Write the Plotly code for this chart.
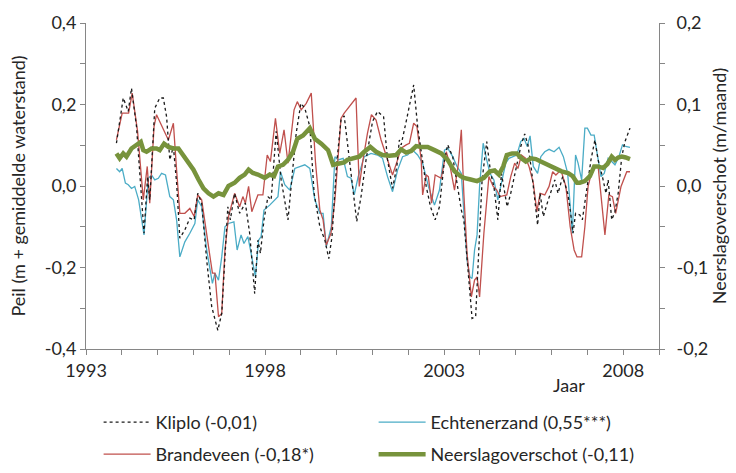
import plotly.graph_objects as go

# ---- data (decimal years) ----
kliplo_x = [1993.85,1994.04,1994.18,1994.27,1994.41,1994.62,1994.72,1994.78,1994.92,1995.06,1995.16,1995.25,1995.34,1995.44,1995.53,1995.62,1995.76,1995.9,1996.02,1996.12,1996.23,1996.37,1996.51,1996.68,1996.79,1996.88,1996.96,1997.03,1997.15,1997.29,1997.45,1997.57,1997.71,1997.8,1997.87,1997.97,1998.08,1998.17,1998.31,1998.45,1998.64,1998.78,1998.87,1999.0,1999.11,1999.25,1999.37,1999.53,1999.67,1999.78,1999.87,2000.0,2000.12,2000.21,2000.3,2000.44,2000.56,2000.68,2000.82,2001.0,2001.14,2001.31,2001.42,2001.56,2001.68,2001.75,2001.8,2001.94,2002.08,2002.15,2002.26,2002.36,2002.5,2002.62,2002.75,2002.87,2003.01,2003.1,2003.24,2003.36,2003.48,2003.55,2003.69,2003.78,2003.88,2003.97,2004.06,2004.19,2004.3,2004.39,2004.5,2004.6,2004.67,2004.76,2004.86,2005.0,2005.14,2005.25,2005.34,2005.44,2005.53,2005.61,2005.68,2005.77,2005.88,2006.0,2006.09,2006.18,2006.31,2006.45,2006.51,2006.6,2006.67,2006.79,2006.86,2006.98,2007.1,2007.21,2007.3,2007.42,2007.52,2007.58,2007.68,2007.77,2007.86,2007.96,2008.05,2008.19]
kliplo_y = [0.105,0.216,0.183,0.240,0.146,-0.116,0.023,-0.034,0.191,0.216,0.216,0.17,0.064,0.097,0.007,-0.128,-0.108,-0.079,-0.083,-0.018,-0.042,-0.182,-0.296,-0.354,-0.313,-0.165,-0.051,-0.083,-0.018,-0.067,-0.042,-0.116,-0.264,-0.133,-0.165,-0.083,-0.026,-0.034,0.134,0.015,-0.083,0.048,0.13,0.203,0.191,0.146,-0.018,-0.1,-0.133,-0.178,-0.124,0.056,0.162,0.172,0.105,-0.001,-0.087,-0.026,0.064,0.158,0.183,0.17,0.064,-0.006,0.048,0.113,0.101,0.158,0.216,0.248,0.146,0.08,-0.001,-0.051,-0.083,-0.051,0.064,0.101,0.072,0.007,-0.059,-0.083,-0.223,-0.325,-0.321,-0.149,0.015,0.109,0.031,-0.001,-0.083,0.031,-0.006,-0.051,-0.018,0.039,0.097,0.128,0.101,0.039,-0.034,-0.096,-0.018,-0.075,-0.042,-0.01,0.015,-0.018,0.023,-0.018,-0.051,-0.116,-0.067,-0.071,-0.083,-0.01,0.064,0.113,0.064,0.023,-0.018,0.015,-0.083,-0.063,-0.018,0.072,0.109,0.142]

echten_x = [1993.85,1993.94,1994.01,1994.1,1994.18,1994.27,1994.36,1994.47,1994.62,1994.74,1994.83,1994.92,1995.02,1995.11,1995.22,1995.34,1995.44,1995.53,1995.62,1995.76,1995.9,1996.04,1996.12,1996.23,1996.37,1996.53,1996.6,1996.7,1996.79,1996.88,1996.98,1997.13,1997.22,1997.33,1997.41,1997.52,1997.61,1997.73,1997.82,1997.89,1997.97,1998.13,1998.36,1998.43,1998.55,1998.69,1998.83,1999.11,1999.25,1999.39,1999.53,1999.62,1999.71,1999.85,1999.95,2000.04,2000.18,2000.3,2000.4,2000.49,2000.6,2000.77,2000.96,2001.14,2001.28,2001.42,2001.56,2001.7,2001.84,2001.98,2002.12,2002.26,2002.4,2002.56,2002.73,2002.87,2003.01,2003.1,2003.24,2003.36,2003.48,2003.57,2003.64,2003.72,2003.78,2003.85,2003.92,2003.99,2004.09,2004.19,2004.28,2004.39,2004.5,2004.58,2004.72,2004.81,2004.9,2005.03,2005.14,2005.23,2005.32,2005.4,2005.49,2005.61,2005.7,2005.81,2005.93,2006.07,2006.21,2006.33,2006.45,2006.58,2006.67,2006.74,2006.84,2006.93,2007.0,2007.1,2007.19,2007.28,2007.38,2007.47,2007.58,2007.68,2007.77,2007.88,2007.98,2008.07,2008.19]
echten_y = [0.043,0.035,0.043,0.007,0.003,-0.006,-0.001,-0.034,-0.12,0.019,0.027,0.015,0.019,0.031,0.027,-0.026,-0.034,-0.083,-0.174,-0.137,-0.116,-0.092,-0.034,-0.051,-0.157,-0.239,-0.214,-0.231,-0.174,-0.1,-0.092,-0.088,-0.157,-0.12,-0.141,-0.124,-0.165,-0.223,-0.133,-0.124,-0.059,-0.047,-0.026,0.035,0.003,-0.01,0.043,0.052,0.043,-0.034,-0.067,-0.067,-0.149,-0.1,0.072,0.064,0.068,0.023,0.019,-0.022,0.023,0.072,0.08,0.076,0.068,0.023,-0.014,0.039,0.072,0.076,0.088,0.076,0.056,-0.001,-0.047,-0.01,0.088,0.093,0.072,0.048,0.031,-0.083,-0.182,-0.223,-0.227,-0.157,-0.12,-0.001,0.105,0.064,0.031,0.015,-0.034,-0.001,0.056,0.068,0.072,0.076,0.109,0.117,0.097,0.123,0.048,0.031,0.072,0.084,0.09,0.084,0.095,0.072,0.031,-0.116,0.076,0.056,0.015,0.142,0.142,0.125,0.125,0.072,0.023,0.031,0.068,0.06,0.052,0.072,0.101,0.097,0.095]

brande_x = [1993.85,1994.01,1994.19,1994.29,1994.44,1994.6,1994.71,1994.78,1994.9,1994.97,1995.3,1995.44,1995.53,1995.62,1995.76,1995.9,1996.02,1996.12,1996.23,1996.42,1996.53,1996.6,1996.7,1996.79,1996.88,1996.98,1997.15,1997.29,1997.38,1997.45,1997.54,1997.63,1997.8,1997.94,1998.06,1998.15,1998.29,1998.41,1998.53,1998.64,1998.81,1998.9,1999.01,1999.15,1999.29,1999.41,1999.53,1999.62,1999.71,1999.84,1999.95,2000.12,2000.21,2000.54,2000.63,2000.72,2000.86,2000.97,2001.1,2001.24,2001.42,2001.56,2001.7,2001.8,2001.94,2002.03,2002.15,2002.24,2002.36,2002.4,2002.5,2002.56,2002.65,2002.75,2002.92,2003.06,2003.15,2003.29,2003.4,2003.48,2003.55,2003.64,2003.76,2003.85,2003.92,2003.99,2004.11,2004.25,2004.37,2004.47,2004.56,2004.75,2004.86,2004.97,2005.06,2005.16,2005.28,2005.37,2005.49,2005.59,2005.68,2005.81,2005.93,2006.03,2006.12,2006.26,2006.4,2006.52,2006.63,2006.71,2006.84,2006.93,2007.02,2007.16,2007.3,2007.38,2007.49,2007.6,2007.7,2007.79,2007.94,2008.1,2008.19]
brande_y = [0.113,0.179,0.179,0.228,0.134,-0.034,0.048,-0.042,0.146,0.175,0.113,0.154,0.039,-0.067,-0.067,-0.055,-0.075,-0.022,-0.034,-0.149,-0.214,-0.214,-0.321,-0.313,-0.157,-0.075,-0.018,-0.051,-0.026,-0.042,-0.001,-0.063,-0.022,-0.022,0.076,0.06,0.166,0.08,0.138,0.056,0.187,0.207,0.187,0.203,0.228,0.056,-0.059,-0.083,-0.145,-0.116,-0.034,0.166,0.179,0.216,-0.001,0.056,0.13,0.175,0.162,0.113,0.064,0.027,0.064,0.093,0.101,0.105,0.154,0.146,0.064,-0.022,0.027,0.023,-0.042,0.027,0.019,0.084,0.056,-0.01,0.056,0.138,-0.018,-0.165,-0.272,-0.231,-0.223,-0.272,-0.116,0.023,-0.001,-0.01,-0.026,-0.022,0.023,0.056,0.043,0.076,0.068,0.048,0.007,-0.063,-0.018,-0.022,-0.001,0.035,0.027,0.039,-0.001,-0.1,-0.157,-0.174,-0.174,-0.1,-0.001,0.048,0.048,-0.018,-0.12,-0.022,-0.026,-0.067,-0.001,0.035,0.035]

neerslag_x = [1993.85,1993.94,1994.04,1994.13,1994.27,1994.41,1994.53,1994.6,1994.69,1994.83,1994.97,1995.06,1995.18,1995.3,1995.44,1995.58,1995.72,1995.86,1996.0,1996.14,1996.28,1996.42,1996.56,1996.7,1996.84,1996.98,1997.15,1997.29,1997.43,1997.54,1997.66,1997.8,1997.99,1998.13,1998.25,1998.36,1998.5,1998.64,1998.78,1998.9,1999.06,1999.25,1999.39,1999.57,1999.76,1999.9,2000.04,2000.21,2000.3,2000.49,2000.63,2000.77,2000.94,2001.1,2001.28,2001.47,2001.66,2001.8,2001.94,2002.08,2002.22,2002.36,2002.54,2002.73,2002.92,2003.1,2003.29,2003.46,2003.55,2003.74,2003.92,2004.11,2004.28,2004.41,2004.53,2004.65,2004.75,2004.9,2005.03,2005.16,2005.28,2005.42,2005.56,2005.7,2005.84,2005.98,2006.12,2006.28,2006.46,2006.59,2006.71,2006.79,2006.93,2007.07,2007.19,2007.3,2007.44,2007.56,2007.68,2007.77,2007.86,2007.96,2008.07,2008.19]
neerslag_y = [0.040,0.034,0.040,0.036,0.046,0.050,0.054,0.044,0.042,0.046,0.046,0.044,0.052,0.048,0.046,0.046,0.038,0.030,0.020,0.008,-0.003,-0.009,-0.013,-0.009,-0.011,0.000,0.004,0.010,0.014,0.020,0.016,0.014,0.010,0.014,0.012,0.024,0.026,0.032,0.042,0.058,0.062,0.071,0.058,0.052,0.044,0.026,0.028,0.029,0.032,0.034,0.036,0.042,0.048,0.042,0.038,0.037,0.038,0.045,0.041,0.043,0.049,0.048,0.048,0.044,0.040,0.032,0.018,0.012,0.010,0.008,0.006,0.010,0.018,0.019,0.014,0.024,0.038,0.040,0.040,0.034,0.030,0.034,0.033,0.030,0.027,0.025,0.022,0.018,0.016,0.012,0.004,0.004,0.006,0.012,0.024,0.024,0.022,0.027,0.036,0.032,0.035,0.036,0.035,0.033]

left_tickvals = [-0.4, -0.2, 0.0, 0.2, 0.4]
left_ticktext = ["-0,4", "-0,2", "0,0", "0,2", "0,4"]
right_tickvals = [-0.2, -0.1, 0.0, 0.1, 0.2]
right_ticktext = ["-0,2", "-0,1", "0,0", "0,1", "0,2"]
x_tickvals = [1993, 1998, 2003, 2008]
x_ticktext = ["1993", "1998", "2003", "2008"]

FONT = "Lato, sans-serif"
FS = 18
AXC = "#868686"
TXT = "#262626"

fig = go.Figure()
fig.add_trace(go.Scatter(x=echten_x, y=echten_y, mode="lines", name="Echtenerzand (0,55***)",
                         line=dict(color="#4bacc6", width=1.3), legend="legend", legendrank=2))
fig.add_trace(go.Scatter(x=brande_x, y=brande_y, mode="lines", name="Brandeveen (-0,18*)",
                         line=dict(color="#c0504d", width=1.3), legend="legend2", legendrank=1))
fig.add_trace(go.Scatter(x=kliplo_x, y=kliplo_y, mode="lines", name="Kliplo (-0,01)",
                         line=dict(color="#1a1a1a", width=1.3, dash="dot"), legend="legend", legendrank=1))
fig.add_trace(go.Scatter(x=neerslag_x, y=neerslag_y, mode="lines", name="Neerslagoverschot (-0,11)",
                         line=dict(color="#77933c", width=4.5), yaxis="y2", legend="legend2", legendrank=2))

legend_common = dict(orientation="h", font=dict(family=FONT, size=FS, color=TXT),
                     entrywidth=213, entrywidthmode="pixels", itemwidth=47,
                     xanchor="left", yanchor="bottom", yref="container",
                     bgcolor="rgba(0,0,0,0)", traceorder="normal")

axis_common = dict(showgrid=False, zeroline=False, showline=True, linecolor=AXC, linewidth=1,
                   ticks="outside", ticklen=5, tickcolor=AXC,
                   tickfont=dict(family=FONT, size=FS, color=TXT))

fig.update_layout(
    width=736, height=473,
    margin=dict(l=86, r=77, t=23, b=124),
    paper_bgcolor="white", plot_bgcolor="white",
    font=dict(family=FONT, size=FS, color=TXT),
    showlegend=True,
    legend=dict(x=0.022, y=0.068, **legend_common),
    legend2=dict(x=0.022, y=0.0, **legend_common),
    xaxis=dict(range=[1993, 2009], tickvals=x_tickvals, ticktext=x_ticktext,
               minor=dict(dtick=1, tick0=1993, ticks="outside", ticklen=5, tickcolor=AXC, showgrid=False),
               **axis_common),
    yaxis=dict(range=[-0.4, 0.4], tickvals=left_tickvals, ticktext=left_ticktext,
               title=dict(text="Peil (m + gemiddelde waterstand)", standoff=14,
                          font=dict(family=FONT, size=FS, color=TXT)),
               minor=dict(dtick=0.1, tick0=0, ticks="outside", ticklen=5, tickcolor=AXC, showgrid=False),
               **axis_common),
    yaxis2=dict(range=[-0.2, 0.2], tickvals=right_tickvals, ticktext=right_ticktext, overlaying="y", side="right",
                title=dict(text="Neerslagoverschot (m/maand)", standoff=2,
                           font=dict(family=FONT, size=FS, color=TXT)),
                ticklabelstandoff=8,
                minor=dict(dtick=0.05, tick0=0, ticks="outside", ticklen=5, tickcolor=AXC, showgrid=False),
                **axis_common),
    annotations=[
        dict(text="Jaar", xref="paper", yref="paper", x=0.843, y=-0.11,
             showarrow=False, xanchor="center", yanchor="middle",
             font=dict(family=FONT, size=FS, color=TXT)),
    ],
)

fig.write_html("out.html", config={"displayModeBar": False},
               post_script="document.body.style.margin='0';")
